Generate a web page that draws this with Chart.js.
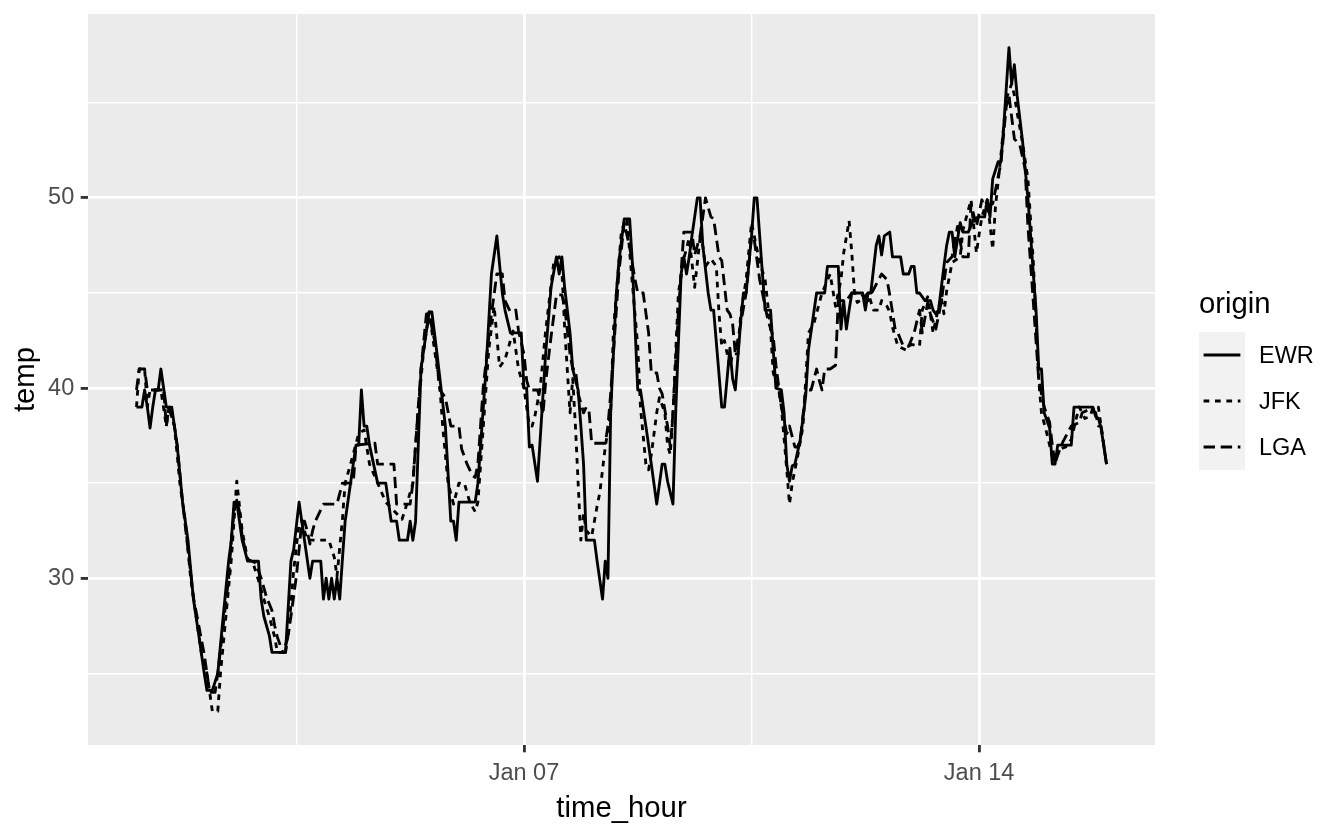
<!DOCTYPE html>
<html><head><meta charset="utf-8">
<script src="https://cdn.jsdelivr.net/npm/chart.js@4.4.1/dist/chart.umd.min.js"></script>
<style>html,body{margin:0;padding:0;background:#fff;}canvas{display:block;}</style>
</head><body>
<canvas id="c" width="1344" height="830"></canvas>
<script>
// hours since 2013-01-01 00:00, temperature (F)
const ewr = [[1,39.0],[2,39.0],[3,39.0],[4,39.9],[5,39.0],[6,37.9],[7,39.0],[8,39.9],[9,39.9],[10,41.0],[11,40.0],[12,39.0],[14,39.0],[15,38.0],[16,37.0],[18,34.0],[20,32.0],[22,28.9],[24,27.0],[26,25.0],[27,24.1],[29,24.1],[31,25.0],[33,28.0],[35,30.9],[36,32.0],[37,34.0],[38,34.0],[40,32.0],[42,30.9],[46,30.9],[47,28.9],[48,28.0],[50,27.0],[51,26.1],[56,26.1],[58,30.9],[59,31.5],[61,34.0],[63,32.0],[65,30.0],[66,30.9],[69,30.9],[70,28.9],[71,30.0],[72,28.9],[73,30.0],[74,28.9],[75,30.0],[76,28.9],[77,31.0],[78,33.0],[80,35.0],[82,37.0],[83,37.0],[84,39.9],[85,38.0],[86,38.0],[87,37.0],[90,35.0],[93,35.0],[95,33.0],[97,33.0],[98,32.0],[101,32.0],[102,33.0],[103,32.0],[104,33.0],[106,41.0],[109,44.0],[110,44.0],[112,41.7],[115,38.0],[117,33.0],[118,33.0],[119,32.0],[120,34.0],[126,34.0],[127,35.0],[128,37.0],[130,41.0],[132,46.0],[134,48.0],[136,45.0],[137,44.1],[139,42.9],[143,42.9],[144,40.0],[145,40.0],[146,36.9],[147,37.0],[149,35.1],[152,41.8],[154,45.3],[156,46.9],[157,46.0],[158,46.9],[159,45.3],[161,42.9],[162,41.0],[164,39.9],[165,38.0],[166,36.0],[167,32.0],[170,32.0],[171,30.9],[173,28.9],[174,30.9],[175,30.0],[176,38.7],[178,44.8],[179,46.6],[181,48.9],[183,48.9],[184,46.6],[186,39.9],[187,39.9],[189,38.0],[191,36.0],[193,33.9],[195,36.0],[196,36.0],[197,35.1],[199,33.9],[200,38.7],[202,46.0],[203,46.9],[204,46.0],[205,46.9],[206,48.0],[208,50.0],[209,50.0],[210,47.5],[212,45.0],[213,44.1],[214,44.1],[217,39.0],[218,39.0],[220,42.1],[221,40.5],[222,39.9],[224,43.5],[225,45.0],[226,45.0],[228,48.0],[229,50.0],[230,50.0],[231,48.0],[233,44.1],[235,44.1],[236,42.0],[237,40.0],[239,39.9],[240,38.7],[241,36.0],[242,35.1],[243,35.9],[244,36.0],[246,37.3],[248,39.6],[249,42.0],[252,45.0],[255,45.0],[256,46.4],[260,46.4],[261,43.1],[262,44.6],[263,43.1],[264,44.1],[265,45.0],[269,45.0],[270,44.1],[271,45.0],[272,45.0],[274,47.5],[275,48.0],[276,47.0],[277,48.0],[279,48.2],[280,46.9],[283,46.9],[284,46.0],[286,46.0],[287,46.4],[288,46.4],[289,45.0],[290,45.0],[292,44.6],[294,44.6],[295,44.1],[296,43.9],[297,44.1],[299,46.4],[300,47.5],[301,48.2],[302,48.2],[303,46.9],[305,48.7],[306,48.2],[308,48.2],[310,48.9],[312,49.0],[314,49.0],[315,49.9],[316,49.0],[317,51.0],[319,51.9],[320,51.9],[321,53.6],[323,57.9],[324,56.0],[325,57.0],[326,55.4],[328,53.0],[330,50.0],[332,46.0],[333,44.1],[334,41.0],[335,41.0],[336,38.7],[338,37.9],[339,36.0],[340,36.0],[341,37.0],[346,37.0],[347,39.0],[354,39.0],[355,38.5],[356,38.4],[357,37.9],[359,36.0]];

const jfk = [[1,39.0],[2,41.0],[4,41.0],[5,39.0],[6,39.9],[10,39.9],[12,38.0],[13,39.0],[15,38.0],[17,35.0],[19,33.0],[21,30.0],[23,28.0],[25,26.0],[27,25.0],[29,23.0],[31,23.0],[32,25.0],[34,28.0],[36,31.0],[38,35.1],[40,32.5],[42,31.0],[44,30.8],[46,29.9],[48,28.9],[50,28.0],[52,26.9],[53,26.1],[55,26.1],[57,26.9],[59,30.4],[61,32.9],[62,33.0],[64,32.0],[72,32.0],[74,31.1],[75,30.1],[77,33.1],[78,35.0],[80,36.0],[83,37.6],[85,37.8],[87,36.0],[90,35.0],[93,34.0],[99,33.1],[101,34.0],[103,35.0],[105,39.0],[107,42.0],[109,44.0],[111,42.0],[113,40.0],[114,38.0],[116,35.0],[118,33.9],[120,35.0],[122,35.0],[124,34.0],[126,33.5],[127,34.0],[129,38.0],[131,42.0],[133,44.3],[135,41.1],[137,41.5],[138,42.0],[140,43.0],[142,41.0],[144,40.0],[146,38.0],[147,38.0],[148,38.5],[150,40.0],[152,43.0],[155,46.6],[157,46.9],[158,46.2],[159,43.2],[161,38.7],[162,40.5],[163,38.0],[165,32.0],[166,33.4],[167,32.5],[169,32.2],[171,33.8],[172,34.5],[174,36.9],[176,38.7],[177,43.0],[180,48.3],[182,48.9],[184,45.5],[186,42.2],[187,39.0],[189,36.0],[190,35.7],[191,36.5],[193,38.7],[194,39.5],[196,38.7],[197,37.0],[198,36.5],[199,38.7],[201,45.0],[203,46.8],[205,47.9],[207,45.3],[209,47.9],[210,47.5],[211,46.4],[213,46.8],[215,46.4],[216,43.9],[217,42.2],[218,42.5],[220,41.1],[221,41.8],[223,41.8],[224,43.9],[226,45.7],[228,48.7],[229,48.0],[231,46.6],[233,45.7],[235,43.1],[236,40.8],[238,39.9],[239,39.0],[241,35.7],[242,33.9],[243,35.0],[245,36.4],[247,38.0],[249,42.9],[251,43.4],[254,45.0],[257,46.0],[259,44.3],[261,45.7],[262,47.1],[264,48.8],[265,47.1],[266,45.0],[267,44.5],[269,44.7],[271,45.0],[273,44.1],[275,44.1],[276,44.6],[278,44.3],[279,44.0],[280,43.2],[282,42.2],[285,42.0],[287,42.3],[290,42.2],[291,44.1],[293,44.8],[294,43.9],[295,42.9],[296,43.6],[298,44.8],[299,43.9],[300,45.1],[302,46.6],[305,46.9],[306,48.3],[309,49.9],[311,47.1],[312,48.1],[313,49.0],[315,49.9],[317,47.3],[318,49.5],[320,52.2],[322,55.2],[324,56.0],[325,55.4],[326,54.5],[328,52.9],[330,51.0],[332,46.6],[334,40.4],[335,38.7],[337,37.6],[339,36.4],[340,36.2],[342,36.8],[344,36.9],[346,37.3],[348,38.5],[349,39.0],[351,38.4],[353,38.5],[354,39.0],[356,39.0],[357,38.0],[359,36.0]];

const lga = [[1,39.9],[2,41.0],[4,41.0],[5,39.9],[10,39.9],[11,40.0],[12,38.0],[13,39.0],[15,38.0],[16,37.0],[18,34.0],[20,31.5],[22,29.0],[24,27.5],[26,26.0],[27,25.0],[28,24.0],[30,24.0],[31,25.0],[33,27.5],[35,30.0],[36,32.0],[37,33.5],[38,34.1],[39,33.5],[40,32.2],[42,31.0],[45,30.8],[47,30.0],[49,29.0],[51,28.3],[52,27.5],[53,26.9],[55,26.1],[56,26.1],[58,28.0],[60,30.1],[61,31.5],[62,33.0],[63,33.0],[64,32.5],[65,31.8],[66,32.5],[67,33.0],[70,33.9],[75,33.9],[77,35.0],[81,35.0],[82,37.0],[89,37.1],[90,36.0],[96,36.0],[97,33.9],[102,33.9],[103,35.0],[104,37.0],[106,41.0],[108,43.9],[109,43.9],[111,42.5],[113,39.9],[115,39.5],[117,38.0],[120,38.0],[121,36.8],[123,36.0],[125,35.4],[126,35.3],[127,36.0],[129,40.1],[132,43.9],[134,46.0],[136,46.0],[137,44.6],[139,44.0],[141,44.1],[142,43.0],[144,41.8],[145,40.4],[146,39.9],[149,39.9],[150,39.4],[151,38.6],[152,40.3],[154,42.7],[156,44.9],[158,44.9],[159,44.3],[161,41.8],[162,41.0],[163,41.0],[164,39.7],[166,38.7],[167,39.0],[168,38.8],[169,37.1],[174,37.1],[175,38.0],[176,39.7],[179,46.0],[181,48.7],[183,47.4],[185,45.7],[186,45.0],[188,45.0],[190,42.9],[191,40.8],[193,40.8],[194,40.0],[195,39.7],[197,38.0],[198,36.9],[199,38.7],[201,44.0],[203,48.2],[206,48.2],[207,47.0],[209,48.0],[211,50.0],[213,49.0],[214,48.9],[216,46.9],[217,46.7],[219,44.1],[220,43.9],[221,43.4],[222,41.8],[224,43.4],[226,45.0],[228,48.0],[229,47.8],[231,45.7],[234,43.6],[236,42.7],[237,41.2],[238,40.1],[239,39.0],[241,37.6],[242,38.0],[244,36.9],[245,36.9],[246,37.3],[248,39.9],[250,39.9],[252,41.0],[253,40.4],[254,39.9],[255,41.0],[257,41.0],[259,41.2],[260,44.6],[263,44.6],[265,45.0],[268,45.0],[271,44.6],[272,44.9],[276,46.0],[278,45.7],[279,44.9],[281,43.1],[282,42.9],[284,42.2],[286,42.2],[288,42.9],[290,44.1],[291,42.9],[293,44.5],[294,43.9],[296,43.1],[298,44.5],[300,46.6],[302,46.9],[304,48.5],[306,46.9],[308,46.9],[309,49.7],[311,48.5],[313,49.9],[314,49.5],[317,49.7],[320,51.8],[322,54.8],[323,55.4],[325,53.1],[327,52.8],[329,51.5],[330,48.5],[332,44.5],[334,40.4],[336,39.0],[338,38.2],[339,37.0],[340,36.0],[341,36.5],[343,37.2],[346,38.0],[349,38.2],[350,38.7],[353,38.9],[355,38.7],[356,38.0],[357,38.0],[359,36.0]];

const origins = ['EWR', 'JFK', 'LGA'];
const xMajorHours = [144, 312];
const xMajorLabels = ['Jan 07', 'Jan 14'];
const xMinorHours = [60, 228];
const yMajor = [30, 40, 50];
const yMinor = [25, 35, 45, 55];

const FONT = "'Liberation Sans', Arial, Helvetica, sans-serif";
const LW = 2.85, LW_MINOR = 1.42;
const dashes = [[], [5.7, 5.7], [11.4, 5.7]];
const seriesData = [ewr, jfk, lga];

const panelBg = {
  id: 'panelBg',
  beforeDraw(chart) {
    const {ctx, chartArea: a} = chart;
    ctx.save();
    ctx.fillStyle = '#FFFFFF';
    ctx.fillRect(0, 0, chart.width, chart.height);
    ctx.fillStyle = '#EBEBEB';
    ctx.fillRect(a.left, a.top, a.right - a.left, a.bottom - a.top);
    ctx.restore();
  }
};

const ggLegend = {
  id: 'ggLegend',
  afterDraw(chart) {
    const ctx = chart.ctx;
    const LX = 1199, KTOP = 332, KS = 46;
    ctx.save();
    ctx.textAlign = 'left';
    ctx.textBaseline = 'alphabetic';
    ctx.fillStyle = '#000';
    ctx.font = '29.3px ' + FONT;
    ctx.fillText('origin', LX, 313);
    origins.forEach((name, i) => {
      const top = KTOP + i * KS;
      ctx.fillStyle = '#F2F2F2';
      ctx.fillRect(LX, top, KS, KS);
      ctx.strokeStyle = '#000';
      ctx.lineWidth = LW;
      ctx.lineCap = 'butt';
      ctx.setLineDash(dashes[i]);
      ctx.beginPath();
      ctx.moveTo(LX + 0.1 * KS, top + KS / 2);
      ctx.lineTo(LX + 0.9 * KS, top + KS / 2);
      ctx.stroke();
      ctx.setLineDash([]);
      ctx.fillStyle = '#000';
      ctx.font = '23.5px ' + FONT;
      ctx.fillText(name, LX + KS + 14, top + KS / 2 + 8.4);
    });
    ctx.restore();
  }
};

new Chart(document.getElementById('c'), {
  type: 'line',
  data: {
    datasets: origins.map((name, i) => ({
      label: name,
      data: seriesData[i].map(p => ({x: p[0], y: p[1]})),
      borderColor: '#000000',
      borderWidth: LW,
      borderDash: dashes[i],
      borderCapStyle: 'butt',
      borderJoinStyle: 'round',
      pointRadius: 0,
      tension: 0,
      fill: false
    }))
  },
  options: {
    responsive: false,
    animation: false,
    devicePixelRatio: 1,
    layout: {padding: {left: 0, top: 14, right: 189, bottom: 0}},
    plugins: {legend: {display: false}, tooltip: {enabled: false}},
    scales: {
      x: {
        type: 'linear',
        min: -16.9, max: 376.9,
        afterBuildTicks(s) { s.ticks = [...xMinorHours, ...xMajorHours].sort((a, b) => a - b).map(v => ({value: v})); },
        afterFit(s) { s.height = 85; s.paddingLeft = 0; s.paddingRight = 0; },
        border: {display: false},
        grid: {
          color: '#FFFFFF',
          lineWidth: c => (c.tick && xMajorHours.includes(c.tick.value)) ? LW : LW_MINOR,
          drawTicks: true,
          tickLength: 7.3,
          tickWidth: LW,
          tickColor: c => (c.tick && xMajorHours.includes(c.tick.value)) ? '#333333' : 'rgba(0,0,0,0)'
        },
        ticks: {
          autoSkip: false, maxRotation: 0, minRotation: 0, padding: 7,
          color: '#4D4D4D', font: {family: FONT, size: 23.5},
          callback: v => { const k = xMajorHours.indexOf(v); return k >= 0 ? xMajorLabels[k] : ''; }
        },
        title: {display: true, text: 'time_hour', color: '#000', font: {family: FONT, size: 29.3}, padding: {top: 0, bottom: 3.2}}
      },
      y: {
        type: 'linear',
        min: 21.23, max: 59.67,
        afterBuildTicks(s) { s.ticks = [...yMinor, ...yMajor].sort((a, b) => a - b).map(v => ({value: v})); },
        afterFit(s) { s.width = 88; s.paddingTop = 0; s.paddingBottom = 0; },
        border: {display: false},
        grid: {
          color: '#FFFFFF',
          lineWidth: c => (c.tick && yMajor.includes(c.tick.value)) ? LW : LW_MINOR,
          drawTicks: true,
          tickLength: 7.3,
          tickWidth: LW,
          tickColor: c => (c.tick && yMajor.includes(c.tick.value)) ? '#333333' : 'rgba(0,0,0,0)'
        },
        ticks: {
          autoSkip: false, padding: 6.5,
          color: '#4D4D4D', font: {family: FONT, size: 23.5},
          callback: v => yMajor.includes(v) ? String(v) : ''
        },
        title: {display: true, text: 'temp', color: '#000', font: {family: FONT, size: 29.3}, padding: {top: 8.4, bottom: 0}}
      }
    }
  },
  plugins: [panelBg, ggLegend]
});
</script>
</body></html>
